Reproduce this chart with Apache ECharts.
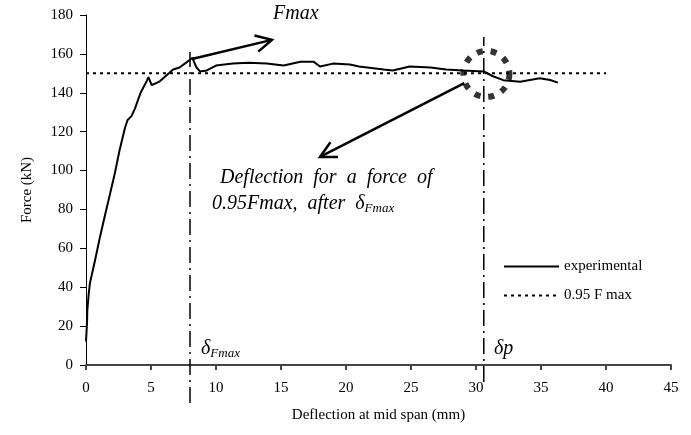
<!DOCTYPE html>
<html><head><meta charset="utf-8">
<script src="https://cdn.jsdelivr.net/npm/echarts@6/dist/echarts.min.js"></script>
<style>html,body{margin:0;padding:0;background:#fff}#c{width:691px;height:435px}</style>
</head><body><div id="c"></div>
<script>
// experimental curve (deflection mm, force kN)
const deflection = [0,0.08,0.1,0.15,0.2,0.3,0.7,1.08,1.46,1.85,2.23,2.6,3.0,3.2,3.5,3.77,4.2,4.67,4.8,5.05,5.4,5.7,6.2,6.7,7.2,7.6,8.0,8.2,8.3,8.5,8.77,9.3,10,11.3,12.5,13.9,15.2,16.5,17.5,18,19,20.3,21,22.9,23.6,24.9,26.5,27.7,29,30.6,31.3,32.1,33.4,34.9,35.7,36.3];
const force = [12,22,28,27,36,42,54,66,77,88,99,111,122,126,128,132,140,146,148,144,145,146,149,152,153,155,157,158,156,153,151,151.5,154,155,155.5,155,154,156,156,153.5,155,154.5,153.5,152,151.5,153.5,153,152,151.5,151,148.5,146.5,145.7,147.5,146.6,145.2];
// 0.95 Fmax line
const refX = [0, 40];
const refF = [150, 150];
// marker lines
const deltaFmax = 8;
const deltaFmaxSpan = [-19.5, 161];
const deltaP = 30.6;
const deltaPSpan = [-8.7, 168.7];
// circled point
const circlePt = [30.8, 149.7];
// arrows [tail, tip]
const arrowFmax = [[8.15, 157.4], [14.3, 167.2]];
const arrowDefl = [[29.1, 145], [18.0, 107]];
const xTicks = [0,5,10,15,20,25,30,35,40,45];
const yTicks = [0,20,40,60,80,100,120,140,160,180];

const FONT = '"Liberation Serif", "Times New Roman", serif';
const chart = echarts.init(document.getElementById('c'), null, {renderer: 'canvas'});
const expData = deflection.map((x, i) => [x, force[i]]);
const refData = refX.map((x, i) => [x, refF[i]]);

chart.setOption({
  animation: false,
  backgroundColor: '#fff',
  grid: {left: 86, right: 20, top: 15, bottom: 70},
  legend: {
    data: ['experimental', '0.95 F max'],
    orient: 'vertical', left: 498, top: 254,
    itemWidth: 55, itemHeight: 14, itemGap: 14,
    itemStyle: {opacity: 0},
    textStyle: {fontFamily: FONT, fontSize: 15, color: '#000'}
  },
  xAxis: {
    type: 'value', min: xTicks[0], max: xTicks[xTicks.length - 1], interval: 5,
    name: 'Deflection at mid span (mm)', nameLocation: 'middle', nameGap: 43,
    nameTextStyle: {fontFamily: FONT, fontSize: 15, color: '#000'},
    axisLine: {lineStyle: {color: '#444', width: 2}},
    axisTick: {inside: false, length: 5, lineStyle: {color: '#444', width: 2}},
    axisLabel: {fontFamily: FONT, fontSize: 15, color: '#000', margin: 16},
    splitLine: {show: false}
  },
  yAxis: {
    type: 'value', min: yTicks[0], max: yTicks[yTicks.length - 1], interval: 20,
    name: 'Force (kN)', nameLocation: 'middle', nameGap: 51, nameRotate: 90,
    nameTextStyle: {fontFamily: FONT, fontSize: 15, color: '#000'},
    axisLine: {show: true, lineStyle: {color: '#000', width: 1}},
    axisTick: {show: true, length: 6, lineStyle: {color: '#000'}},
    axisLabel: {fontFamily: FONT, fontSize: 15, color: '#000', margin: 13},
    splitLine: {show: false}
  },
  series: [
    {name: 'experimental', type: 'line', data: expData, symbol: 'none',
     lineStyle: {color: '#000', width: 2}, itemStyle: {color: '#000'}},
    {name: '0.95 F max', type: 'line', data: refData, symbol: 'none',
     lineStyle: {color: '#000', width: 2, type: [3, 4]}, itemStyle: {color: '#000'}},
    {name: 'dFmax', type: 'line', clip: false, symbol: 'none',
     data: deltaFmaxSpan.map(f => [deltaFmax, f]),
     lineStyle: {color: '#000', width: 1.5, type: [16, 5, 2, 5]}},
    {name: 'dp', type: 'line', clip: false, symbol: 'none',
     data: deltaPSpan.map(f => [deltaP, f]),
     lineStyle: {color: '#000', width: 1.5, type: [16, 5, 2, 5]}},
    {name: 'circle', type: 'scatter', data: [circlePt], symbol: 'circle', symbolSize: 46,
     itemStyle: {color: 'rgba(0,0,0,0)', borderColor: '#000', borderWidth: 6, borderType: [6, 8]}}
  ]
});

function arrowEls(a) {
  const p0 = chart.convertToPixel({gridIndex: 0}, a[0]);
  const p1 = chart.convertToPixel({gridIndex: 0}, a[1]);
  const ang = Math.atan2(p0[1] - p1[1], p0[0] - p1[0]);
  const L = 18, d = 0.48;
  const w1 = [p1[0] + L * Math.cos(ang + d), p1[1] + L * Math.sin(ang + d)];
  const w2 = [p1[0] + L * Math.cos(ang - d), p1[1] + L * Math.sin(ang - d)];
  return [
    {type: 'polyline', shape: {points: [p0, p1]}, style: {stroke: '#000', lineWidth: 2.5, fill: null}},
    {type: 'polyline', shape: {points: [w1, p1, w2]}, style: {stroke: '#000', lineWidth: 2.5, fill: null}}
  ];
}
const rich = {
  d: {fontFamily: FONT, fontStyle: 'italic', fontSize: 20, fill: '#000'},
  s: {fontFamily: FONT, fontStyle: 'italic', fontSize: 13, fill: '#000', padding: [10, 0, 0, 0]}
};
const it = {fontFamily: FONT, fontStyle: 'italic', fontSize: 20, fill: '#000'};
chart.setOption({
  graphic: [
    ...arrowEls(arrowFmax),
    ...arrowEls(arrowDefl),
    {type: 'text', left: 273, top: 4, style: Object.assign({text: 'Fmax'}, it)},
    {type: 'text', left: 220, top: 168, style: Object.assign({text: 'Deflection  for  a  force  of'}, it)},
    {type: 'text', left: 212, top: 194, style: {text: '0.95Fmax,  after  {d|δ}{s|Fmax}', rich: rich, font: 'italic 20px ' + FONT, fill: '#000'}},
    {type: 'text', left: 201, top: 339, style: {text: '{d|δ}{s|Fmax}', rich: rich}},
    {type: 'text', left: 494, top: 339, style: Object.assign({text: 'δp'}, it)}
  ]
});
</script></body></html>
